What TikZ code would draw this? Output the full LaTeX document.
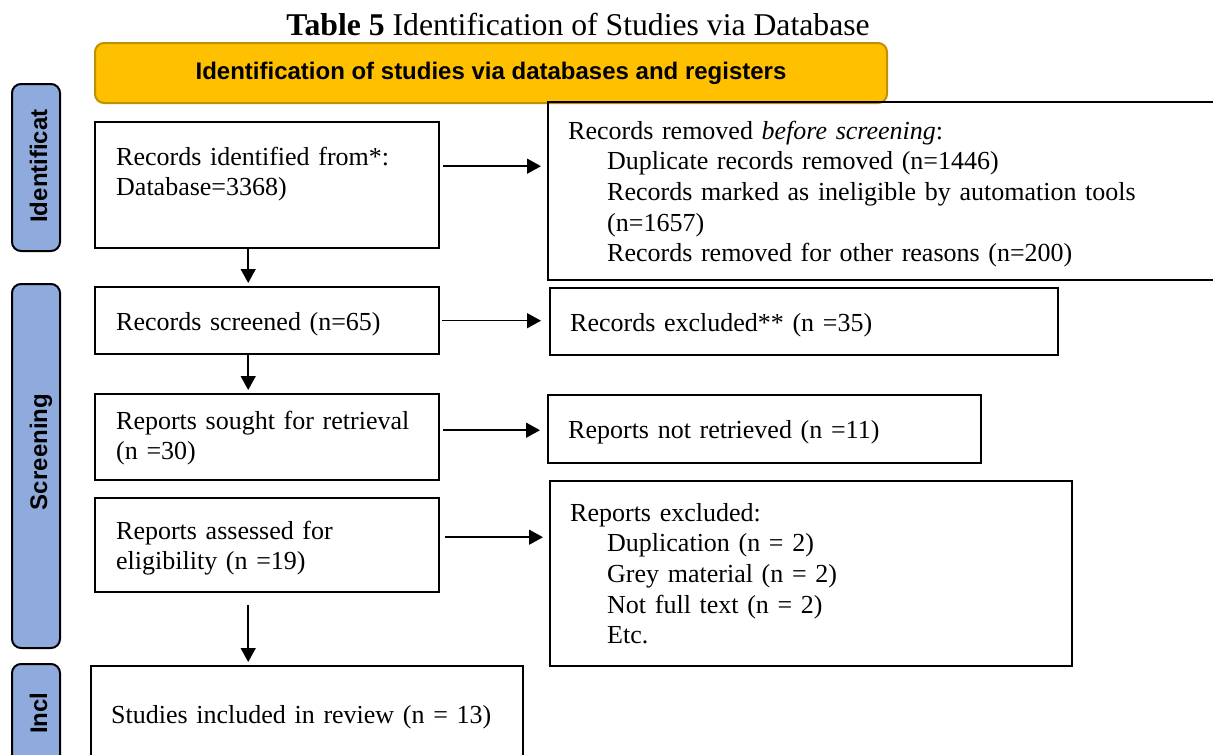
\documentclass[tikz,border=0pt]{standalone}
\usepackage{fontspec}
\setmainfont{Liberation Serif}
\setsansfont{Liberation Sans}
\usetikzlibrary{arrows.meta}
\definecolor{bannergold}{HTML}{FFC000}
\definecolor{bannerrim}{HTML}{BF9000}
\definecolor{phaseblue}{HTML}{8FAADC}
\tikzstyle{box}=[draw, line width=2.4pt, anchor=north west, inner sep=0pt]
\tikzstyle{boxtext}=[anchor=base west, inner sep=0pt, text width=630pt, align=left, font=\fontsize{26}{30.7}\selectfont]
\tikzstyle{phase}=[draw, line width=2pt, fill=phaseblue, rounded corners=9pt, anchor=north west, inner sep=0pt, minimum width=48pt]
\tikzstyle{phasetext}=[rotate=90, anchor=base, inner sep=0pt, font=\sffamily\bfseries\fontsize{24}{28}\selectfont]
\tikzstyle{flow}=[line width=1.5pt, -{Triangle[length=14pt,width=15pt]}]

\begin{document}
\begin{tikzpicture}[x=1pt, y=-1pt]
    \useasboundingbox (0,0) rectangle (1213,755);
% Heading
    \node[anchor=base, inner sep=0pt, font=\fontsize{31.7}{36}\selectfont] (title) at (578,35) {\textbf{Table 5} Identification of Studies via Database};
    \node[anchor=north west, draw=bannerrim, line width=2pt, fill=bannergold, rounded corners=9pt, minimum width=792pt, minimum height=60pt, font=\sffamily\bfseries\fontsize{24}{28}\selectfont] (banner) at (94,42) {Identification of studies via databases and registers};
% Phases
    \node[phase, minimum height=167pt] (idphase) at (11,83) {};
    \node[phase, minimum height=364pt] (scphase) at (11,283) {};
    \node[phase, minimum height=140pt] (inphase) at (11,663) {};
    \node[phasetext] (idlabel) at (47,166) {Identificat};
    \node[phasetext] (sclabel) at (47,452) {Screening};
    \node[phasetext] (inlabel) at (47,713) {Incl};
% Left column
    \node[box, minimum width=344pt, minimum height=126pt] (ident) at (94,121) {};
    \node[box, minimum width=344pt, minimum height=67pt] (screened) at (94,286) {};
    \node[box, minimum width=344pt, minimum height=86pt] (sought) at (94,393) {};
    \node[box, minimum width=344pt, minimum height=94pt] (assessed) at (94,497) {};
    \node[box, minimum width=432pt, minimum height=120pt] (included) at (90,665) {};
% Right column
    \node[box, minimum width=700pt, minimum height=178pt] (removed) at (547,101) {};
    \node[box, minimum width=508pt, minimum height=67pt] (excluded) at (549,287) {};
    \node[box, minimum width=433pt, minimum height=68pt] (notretrieved) at (547,394) {};
    \node[box, minimum width=522pt, minimum height=185pt] (repexcluded) at (549,480) {};
% Texts
    \node[boxtext] (identtext) at (116,165) {Records identified from*:\\Database=3368)};
    \node[boxtext] (screenedtext) at (116,330) {Records screened (n=65)};
    \node[boxtext] (soughttext) at (116,429) {Reports sought for retrieval\\(n =30)};
    \node[boxtext] (assessedtext) at (116,539) {Reports assessed for\\eligibility (n =19)};
    \node[boxtext] (includedtext) at (111,723) {Studies included in review (n = 13)};
    \node[boxtext] (removedtext) at (568,139) {Records removed \emph{before screening}:\\
        \hspace*{39pt}Duplicate records removed (n=1446)\\
        \hspace*{39pt}Records marked as ineligible by automation tools\\
        \hspace*{39pt}(n=1657)\\
        \hspace*{39pt}Records removed for other reasons (n=200)};
    \node[boxtext] (excludedtext) at (570,331) {Records excluded** (n =35)};
    \node[boxtext] (notretrievedtext) at (568,438) {Reports not retrieved (n =11)};
    \node[boxtext] (repexcludedtext) at (570,521) {Reports excluded:\\
        \hspace*{37pt}Duplication (n = 2)\\
        \hspace*{37pt}Grey material (n = 2)\\
        \hspace*{37pt}Not full text (n = 2)\\
        \hspace*{37pt}Etc.};
% Arrows
    \draw[flow, shorten <=3pt, shorten >=6pt] ([yshift=19pt]ident.east) -- ([yshift=19pt]ident.east -| removed.west);
    \draw[flow, shorten <=2pt, shorten >=8pt] (screened.east) -- (screened.east -| excluded.west);
    \draw[flow, shorten <=3pt, shorten >=7pt] ([yshift=7pt]sought.east) -- ([yshift=7pt]sought.east -| notretrieved.west);
    \draw[flow, shorten <=5pt, shorten >=6pt] ([yshift=8pt]assessed.east) -- ([yshift=8pt]assessed.east -| repexcluded.west);
    \draw[flow, shorten >=3pt] ([xshift=-19pt]ident.south) -- ([xshift=-19pt]ident.south |- screened.north);
    \draw[flow, shorten >=3pt] ([xshift=-19pt]screened.south) -- ([xshift=-19pt]screened.south |- sought.north);
    \draw[flow, shorten <=12pt, shorten >=3pt] ([xshift=-19pt]assessed.south) -- ([xshift=-19pt]assessed.south |- included.north);
\end{tikzpicture}
\end{document}
